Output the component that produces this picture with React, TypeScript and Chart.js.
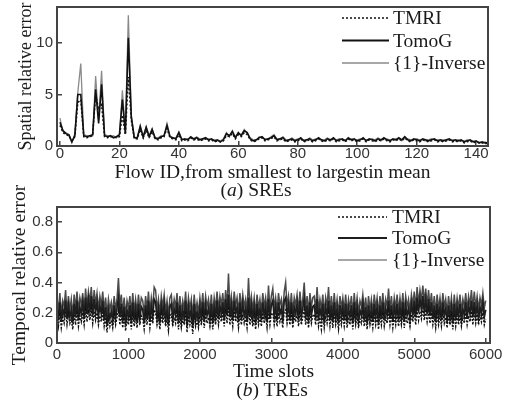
import { useEffect, useRef } from "react";
import { Chart, registerables } from "chart.js";

Chart.register(...registerables);

// ---------- (a) SREs : spatial relative error per flow (flow id 0..144) ----------
const SERIES_NAMES = ["TMRI", "TomoG", "{1}-Inverse"];
const SRE_TMRI = [
  2.0, 1.3, 1.1, 1.0, 0.5, 0.9, 4.2, 4.5, 0.9, 0.8,
  0.9, 1.0, 5.0, 3.5, 4.0, 0.9, 0.8, 0.9, 0.9, 0.8,
  0.9, 3.0, 1.1, 6.7, 2.5, 0.7, 0.7, 1.6, 0.8, 1.5,
  0.8, 1.4, 0.7, 0.6, 0.8, 0.9, 1.7, 0.8, 0.7, 0.6,
  1.1, 0.5, 0.6, 0.5, 0.8, 0.6, 0.7, 0.5, 0.6, 0.7,
  0.5, 0.6, 0.4, 0.5, 0.4, 0.5, 1.0, 0.9, 1.2, 0.7,
  1.1, 0.9, 1.3, 1.1, 0.6, 0.4, 0.5, 0.7, 0.8, 0.5,
  0.6, 0.7, 0.9, 0.5, 0.6, 0.7, 0.4, 0.5, 0.6, 0.4,
  0.5, 0.7, 0.4, 0.5, 0.6, 0.4, 0.5, 0.7, 0.5, 0.4,
  0.6, 0.5, 0.7, 0.4, 0.5, 0.6, 0.4, 0.7, 0.5, 0.6,
  0.4, 0.5, 0.7, 0.4, 0.6, 0.5, 0.4, 0.6, 0.5, 0.7,
  0.5, 0.4, 0.6, 0.5, 0.7, 0.5, 0.8, 0.5, 0.4, 0.6,
  0.5, 0.4, 0.6, 0.5, 0.4, 0.5, 0.6, 0.4, 0.5, 0.4,
  0.5, 0.6, 0.4, 0.5, 0.4, 0.5, 0.3, 0.4, 0.5, 0.3,
  0.4, 0.3, 0.3, 0.2, 0.3,
];
const SRE_TOMOG = [
  2.3, 1.5, 1.2, 1.1, 0.4, 1.0, 5.0, 5.0, 1.0, 0.9,
  1.0, 1.1, 5.5, 2.2, 6.0, 1.0, 0.9, 1.0, 0.8, 0.9,
  1.1, 4.5, 1.2, 10.5, 2.8, 0.8, 0.8, 1.9, 0.9, 1.8,
  0.9, 1.6, 0.8, 0.7, 0.9, 1.0, 2.0, 0.9, 0.8, 0.7,
  1.3, 0.6, 0.7, 0.6, 0.9, 0.7, 0.8, 0.6, 0.7, 0.8,
  0.6, 0.7, 0.5, 0.6, 0.4, 0.6, 1.2, 1.0, 1.4, 0.8,
  1.3, 1.0, 1.5, 1.3, 0.7, 0.5, 0.6, 0.8, 0.9, 0.6,
  0.7, 0.8, 1.0, 0.6, 0.7, 0.8, 0.5, 0.6, 0.7, 0.5,
  0.6, 0.8, 0.5, 0.6, 0.7, 0.5, 0.6, 0.8, 0.6, 0.5,
  0.7, 0.6, 0.8, 0.5, 0.6, 0.7, 0.5, 0.8, 0.6, 0.7,
  0.5, 0.6, 0.8, 0.5, 0.7, 0.6, 0.5, 0.7, 0.6, 0.8,
  0.6, 0.5, 0.7, 0.6, 0.8, 0.6, 0.9, 0.6, 0.5, 0.7,
  0.6, 0.5, 0.7, 0.6, 0.5, 0.6, 0.7, 0.5, 0.6, 0.5,
  0.6, 0.7, 0.5, 0.6, 0.5, 0.6, 0.4, 0.5, 0.6, 0.4,
  0.5, 0.3, 0.4, 0.3, 0.3,
];
const SRE_INVERSE = [
  2.7, 1.4, 1.3, 1.0, 0.3, 1.2, 5.2, 8.0, 1.1, 1.0,
  0.9, 1.0, 6.8, 2.5, 7.3, 1.1, 1.0, 0.9, 1.0, 0.8,
  1.0, 5.4, 1.4, 12.7, 3.0, 0.9, 0.7, 2.0, 0.8, 1.9,
  1.0, 1.7, 0.7, 0.8, 1.0, 0.9, 2.2, 1.0, 0.7, 0.8,
  1.4, 0.7, 0.6, 0.7, 0.8, 0.6, 0.9, 0.7, 0.6, 0.7,
  0.7, 0.6, 0.6, 0.5, 0.5, 0.7, 1.3, 0.9, 1.5, 0.9,
  1.2, 1.1, 1.6, 1.2, 0.8, 0.6, 0.5, 0.9, 0.8, 0.7,
  0.6, 0.9, 1.1, 0.7, 0.6, 0.9, 0.6, 0.5, 0.8, 0.6,
  0.7, 0.7, 0.6, 0.5, 0.8, 0.6, 0.7, 0.7, 0.5, 0.6,
  0.8, 0.5, 0.7, 0.6, 0.7, 0.6, 0.6, 0.7, 0.7, 0.6,
  0.6, 0.7, 0.7, 0.6, 0.6, 0.7, 0.6, 0.8, 0.5, 0.7,
  0.7, 0.6, 0.6, 0.7, 0.7, 0.5, 0.8, 0.7, 0.6, 0.6,
  0.7, 0.6, 0.6, 0.5, 0.6, 0.7, 0.6, 0.6, 0.5, 0.6,
  0.5, 0.6, 0.6, 0.5, 0.6, 0.5, 0.5, 0.6, 0.5, 0.5,
  0.4, 0.4, 0.3, 0.4, 0.3,
];
const SRE_X_TICKS = [0, 20, 40, 60, 80, 100, 120, 140];
const SRE_Y_TICKS = [0, 5, 10];
const SRE_X_TITLE = "Flow ID,from smallest to largestin mean";
const SRE_Y_TITLE = "Spatial relative error";

// ---------- (b) TREs : temporal relative error, one sample every 20 time slots (0..6000) ----------
const TRE_SLOT_STEP = 20;
const TRE_TMRI = [
  0.18, 0.11, 0.20, 0.10, 0.17, 0.13, 0.21, 0.12, 0.19, 0.13, 0.16, 0.09, 0.19, 0.12, 0.21, 0.11, 0.18, 0.14, 0.20, 0.12,
  0.22, 0.14, 0.21, 0.15, 0.23, 0.13, 0.21, 0.15, 0.20, 0.12, 0.18, 0.14, 0.20, 0.11, 0.17, 0.07, 0.16, 0.11, 0.15, 0.10,
  0.19, 0.12, 0.17, 0.22, 0.12, 0.19, 0.10, 0.18, 0.08, 0.16, 0.12, 0.19, 0.09, 0.20, 0.11, 0.17, 0.10, 0.19, 0.12, 0.18,
  0.16, 0.09, 0.19, 0.12, 0.21, 0.10, 0.18, 0.13, 0.22, 0.20, 0.12, 0.17, 0.09, 0.19, 0.13, 0.20, 0.11, 0.16, 0.08, 0.18,
  0.19, 0.11, 0.17, 0.13, 0.20, 0.09, 0.18, 0.10, 0.16, 0.12, 0.21, 0.07, 0.18, 0.12, 0.16, 0.06, 0.19, 0.11, 0.15, 0.10,
  0.18, 0.12, 0.20, 0.10, 0.19, 0.13, 0.17, 0.11, 0.19, 0.09, 0.18, 0.12, 0.21, 0.12, 0.19, 0.14, 0.20, 0.11, 0.22, 0.13,
  0.24, 0.12, 0.19, 0.11, 0.21, 0.14, 0.18, 0.10, 0.20, 0.12, 0.19, 0.13, 0.17, 0.10, 0.22, 0.12, 0.18, 0.11, 0.17, 0.09,
  0.19, 0.12, 0.17, 0.11, 0.20, 0.13, 0.18, 0.10, 0.21, 0.12, 0.19, 0.20, 0.12, 0.18, 0.11, 0.20, 0.14, 0.17, 0.10, 0.21,
  0.22, 0.13, 0.19, 0.12, 0.20, 0.10, 0.18, 0.14, 0.19, 0.11, 0.21, 0.12, 0.17, 0.22, 0.12, 0.18, 0.10, 0.20, 0.13, 0.18,
  0.19, 0.12, 0.21, 0.11, 0.17, 0.09, 0.19, 0.10, 0.18, 0.13, 0.20, 0.11, 0.19, 0.10, 0.20, 0.12, 0.17, 0.09, 0.18, 0.12,
  0.18, 0.11, 0.19, 0.10, 0.17, 0.12, 0.19, 0.09, 0.20, 0.12, 0.18, 0.10, 0.16, 0.13, 0.19, 0.11, 0.18, 0.09, 0.19, 0.12,
  0.17, 0.10, 0.19, 0.12, 0.18, 0.09, 0.19, 0.12, 0.20, 0.11, 0.17, 0.13, 0.21, 0.12, 0.19, 0.10, 0.18, 0.12, 0.19, 0.11,
  0.18, 0.12, 0.20, 0.10, 0.19, 0.13, 0.17, 0.11, 0.19, 0.14, 0.21, 0.12, 0.22, 0.15, 0.21, 0.16, 0.23, 0.15, 0.21, 0.14,
  0.21, 0.13, 0.20, 0.12, 0.18, 0.10, 0.19, 0.12, 0.18, 0.11, 0.20, 0.13, 0.17, 0.10, 0.19, 0.12, 0.18, 0.09, 0.19, 0.11,
  0.18, 0.12, 0.19, 0.11, 0.17, 0.13, 0.20, 0.12, 0.18, 0.14, 0.21, 0.12, 0.20, 0.13, 0.19, 0.12, 0.18, 0.14, 0.20, 0.12,
  0.16,
];
const TRE_TOMOG = [
  0.24, 0.15, 0.27, 0.14, 0.23, 0.18, 0.28, 0.16, 0.25, 0.17, 0.22, 0.13, 0.26, 0.17, 0.28, 0.15, 0.24, 0.19, 0.27, 0.16,
  0.30, 0.19, 0.29, 0.21, 0.31, 0.18, 0.29, 0.20, 0.27, 0.17, 0.25, 0.19, 0.28, 0.15, 0.24, 0.12, 0.22, 0.16, 0.21, 0.14,
  0.25, 0.16, 0.23, 0.30, 0.17, 0.26, 0.14, 0.24, 0.12, 0.22, 0.17, 0.25, 0.13, 0.27, 0.15, 0.23, 0.14, 0.26, 0.16, 0.24,
  0.22, 0.13, 0.25, 0.16, 0.28, 0.14, 0.24, 0.17, 0.29, 0.27, 0.16, 0.23, 0.13, 0.25, 0.18, 0.26, 0.15, 0.22, 0.12, 0.24,
  0.26, 0.15, 0.23, 0.18, 0.27, 0.13, 0.25, 0.14, 0.22, 0.16, 0.28, 0.11, 0.24, 0.17, 0.23, 0.10, 0.26, 0.15, 0.21, 0.14,
  0.24, 0.16, 0.27, 0.14, 0.25, 0.18, 0.23, 0.15, 0.26, 0.13, 0.24, 0.17, 0.28, 0.16, 0.25, 0.19, 0.27, 0.15, 0.29, 0.18,
  0.32, 0.17, 0.25, 0.15, 0.28, 0.19, 0.24, 0.14, 0.27, 0.16, 0.26, 0.18, 0.23, 0.14, 0.30, 0.17, 0.25, 0.16, 0.24, 0.13,
  0.26, 0.17, 0.23, 0.15, 0.27, 0.18, 0.24, 0.14, 0.29, 0.16, 0.25, 0.28, 0.17, 0.24, 0.15, 0.27, 0.19, 0.23, 0.14, 0.28,
  0.30, 0.18, 0.25, 0.16, 0.27, 0.14, 0.24, 0.19, 0.26, 0.15, 0.28, 0.17, 0.23, 0.30, 0.16, 0.25, 0.14, 0.27, 0.18, 0.24,
  0.25, 0.16, 0.29, 0.15, 0.23, 0.17, 0.26, 0.13, 0.24, 0.18, 0.28, 0.15, 0.25, 0.14, 0.27, 0.16, 0.23, 0.13, 0.25, 0.17,
  0.24, 0.15, 0.26, 0.14, 0.23, 0.17, 0.25, 0.13, 0.27, 0.16, 0.24, 0.14, 0.22, 0.18, 0.26, 0.15, 0.24, 0.13, 0.25, 0.16,
  0.23, 0.14, 0.26, 0.17, 0.24, 0.13, 0.25, 0.16, 0.27, 0.15, 0.23, 0.18, 0.28, 0.16, 0.25, 0.14, 0.24, 0.17, 0.26, 0.15,
  0.24, 0.16, 0.27, 0.14, 0.25, 0.18, 0.23, 0.15, 0.26, 0.19, 0.28, 0.17, 0.30, 0.20, 0.29, 0.22, 0.31, 0.21, 0.29, 0.19,
  0.29, 0.18, 0.27, 0.16, 0.25, 0.14, 0.26, 0.17, 0.24, 0.15, 0.27, 0.18, 0.23, 0.14, 0.25, 0.16, 0.24, 0.13, 0.26, 0.15,
  0.24, 0.17, 0.26, 0.15, 0.23, 0.18, 0.27, 0.16, 0.25, 0.19, 0.28, 0.17, 0.27, 0.18, 0.25, 0.16, 0.24, 0.19, 0.27, 0.17,
  0.22,
];
const TRE_INVERSE = [
  0.30, 0.21, 0.33, 0.19, 0.28, 0.24, 0.35, 0.20, 0.31, 0.22, 0.29, 0.18, 0.32, 0.23, 0.34, 0.21, 0.30, 0.25, 0.33, 0.20,
  0.36, 0.24, 0.34, 0.27, 0.37, 0.23, 0.35, 0.26, 0.33, 0.22, 0.31, 0.25, 0.34, 0.21, 0.30, 0.19, 0.29, 0.22, 0.27, 0.20,
  0.31, 0.22, 0.29, 0.43, 0.24, 0.32, 0.20, 0.30, 0.18, 0.28, 0.23, 0.31, 0.19, 0.33, 0.21, 0.29, 0.20, 0.32, 0.22, 0.30,
  0.28, 0.19, 0.31, 0.22, 0.34, 0.20, 0.30, 0.23, 0.37, 0.35, 0.22, 0.29, 0.19, 0.31, 0.24, 0.32, 0.21, 0.28, 0.18, 0.30,
  0.32, 0.21, 0.29, 0.24, 0.33, 0.19, 0.31, 0.20, 0.28, 0.22, 0.34, 0.18, 0.30, 0.23, 0.29, 0.17, 0.32, 0.21, 0.27, 0.20,
  0.30, 0.22, 0.33, 0.20, 0.31, 0.24, 0.29, 0.21, 0.32, 0.19, 0.30, 0.23, 0.34, 0.22, 0.31, 0.25, 0.33, 0.21, 0.35, 0.24,
  0.46, 0.23, 0.31, 0.21, 0.34, 0.25, 0.30, 0.20, 0.33, 0.22, 0.32, 0.24, 0.29, 0.20, 0.43, 0.23, 0.31, 0.22, 0.30, 0.19,
  0.32, 0.23, 0.29, 0.21, 0.33, 0.24, 0.30, 0.20, 0.38, 0.22, 0.31, 0.36, 0.23, 0.30, 0.21, 0.33, 0.25, 0.29, 0.20, 0.34,
  0.40, 0.24, 0.31, 0.22, 0.33, 0.20, 0.30, 0.25, 0.32, 0.21, 0.34, 0.23, 0.29, 0.40, 0.22, 0.31, 0.20, 0.33, 0.24, 0.30,
  0.31, 0.22, 0.37, 0.21, 0.29, 0.23, 0.32, 0.19, 0.30, 0.24, 0.37, 0.21, 0.31, 0.20, 0.33, 0.22, 0.29, 0.19, 0.31, 0.23,
  0.30, 0.21, 0.32, 0.20, 0.29, 0.23, 0.31, 0.19, 0.33, 0.22, 0.30, 0.20, 0.28, 0.24, 0.32, 0.21, 0.30, 0.19, 0.31, 0.22,
  0.29, 0.20, 0.32, 0.23, 0.30, 0.19, 0.31, 0.22, 0.33, 0.21, 0.29, 0.24, 0.36, 0.22, 0.31, 0.20, 0.30, 0.23, 0.32, 0.21,
  0.30, 0.22, 0.33, 0.20, 0.31, 0.24, 0.29, 0.21, 0.32, 0.25, 0.34, 0.23, 0.37, 0.26, 0.35, 0.28, 0.38, 0.27, 0.36, 0.25,
  0.35, 0.24, 0.33, 0.22, 0.31, 0.20, 0.32, 0.23, 0.30, 0.21, 0.33, 0.24, 0.29, 0.20, 0.31, 0.22, 0.30, 0.19, 0.32, 0.21,
  0.30, 0.23, 0.32, 0.21, 0.29, 0.24, 0.33, 0.22, 0.31, 0.25, 0.35, 0.23, 0.34, 0.24, 0.31, 0.22, 0.30, 0.25, 0.33, 0.23,
  0.28,
];
const TRE_X_TICKS = [0, 1000, 2000, 3000, 4000, 5000, 6000];
const TRE_Y_TICKS = [0, 0.2, 0.4, 0.6, 0.8];
const TRE_X_TITLE = "Time slots";
const TRE_Y_TITLE = "Temporal relative error";

const SERIF = '"Liberation Serif", "Times New Roman", serif';
const SANS = '"Liberation Sans", Arial, sans-serif';
const INK = "#1a1a1a";
const FRAME = "#444";

const framePlugin = {
  id: "frame",
  afterDraw(chart: any) {
    const { ctx, chartArea: a } = chart;
    ctx.save();
    ctx.strokeStyle = FRAME;
    ctx.lineWidth = 2;
    ctx.strokeRect(a.left, a.top, a.right - a.left, a.bottom - a.top);
    ctx.restore();
  },
};

function lineLegend(rows: number[], x1: number, x2: number, xt: number) {
  return {
    id: "lineLegend",
    afterDraw(chart: any) {
      const ctx = chart.ctx;
      chart.data.datasets.forEach((ds: any, i: number) => {
        const y = rows[i];
        ctx.save();
        ctx.strokeStyle = ds.legendColor ?? ds.borderColor;
        ctx.lineWidth = ds.legendWidth ?? ds.borderWidth;
        ctx.setLineDash(ds.legendDash ?? ds.borderDash ?? []);
        ctx.beginPath();
        ctx.moveTo(x1, y);
        ctx.lineTo(x2, y);
        ctx.stroke();
        ctx.setLineDash([]);
        ctx.fillStyle = INK;
        ctx.font = `19.5px ${SERIF}`;
        ctx.textBaseline = "middle";
        ctx.textAlign = "left";
        ctx.fillText(ds.label, xt, y + 1);
        ctx.restore();
      });
    },
  };
}

function makeOptions(p: {
  xmin: number; xmax: number; ymin: number; ymax: number;
  xTicks: number[]; yTicks: number[]; xTitle: string; yTitle: string;
  top: number; right: number; xHeight: number; xTickPad: number;
  xTitlePad: number; yTitlePad: number; yTitleSize: number;
}) {
  return {
    responsive: false,
    animation: false as const,
    events: [],
    layout: { padding: { top: p.top, right: p.right, left: 0, bottom: 0 } },
    elements: { point: { radius: 0 }, line: { tension: 0 } },
    plugins: { legend: { display: false }, tooltip: { enabled: false }, title: { display: false } },
    scales: {
      x: {
        type: "linear" as const,
        min: p.xmin,
        max: p.xmax,
        afterBuildTicks: (s: any) => { s.ticks = p.xTicks.map((v) => ({ value: v })); },
        afterFit: (s: any) => { s.height = p.xHeight; s.paddingLeft = 0; s.paddingRight = 0; },
        grid: { drawOnChartArea: false, tickLength: -5, color: FRAME, lineWidth: 1.5 },
        border: { display: false },
        ticks: {
          padding: p.xTickPad, color: "#333", font: { family: SANS, size: 15 }, maxRotation: 0, autoSkip: false,
          callback: (v: any) => String(v),
        },
        title: { display: true, text: p.xTitle, color: INK, font: { family: SERIF, size: 19.5 }, padding: { top: 0, bottom: p.xTitlePad } },
      },
      y: {
        type: "linear" as const,
        min: p.ymin,
        max: p.ymax,
        afterBuildTicks: (s: any) => { s.ticks = p.yTicks.map((v) => ({ value: v })); },
        afterFit: (s: any) => { s.width = 57; s.paddingTop = 0; s.paddingBottom = 0; },
        grid: { drawOnChartArea: false, tickLength: -5, color: FRAME, lineWidth: 1.5 },
        border: { display: false },
        ticks: { padding: 9, color: "#333", font: { family: SANS, size: 15 }, callback: (v: any) => String(v) },
        title: { display: true, text: p.yTitle, color: INK, font: { family: SERIF, size: p.yTitleSize }, padding: { top: p.yTitlePad, bottom: 0 } },
      },
    },
  };
}

function toPoints(values: number[], step: number) {
  return values.map((v, i) => ({ x: i * step, y: v }));
}

export default function App() {
  const topRef = useRef<HTMLCanvasElement>(null);
  const botRef = useRef<HTMLCanvasElement>(null);

  useEffect(() => {
    const top = new Chart(topRef.current!, {
      type: "line",
      data: {
        datasets: [
          { label: SERIES_NAMES[0], data: toPoints(SRE_TMRI, 1), borderColor: "#111", borderWidth: 1.5, borderDash: [2, 2], legendWidth: 1.5 } as any,
          { label: SERIES_NAMES[1], data: toPoints(SRE_TOMOG, 1), borderColor: "#111", borderWidth: 1.6, legendWidth: 2 } as any,
          { label: SERIES_NAMES[2], data: toPoints(SRE_INVERSE, 1), borderColor: "#8a8a8a", borderWidth: 1.3, legendWidth: 1.5 } as any,
        ],
      },
      options: makeOptions({
        xmin: -1, xmax: 144, ymin: 0, ymax: 13.5,
        xTicks: SRE_X_TICKS, yTicks: SRE_Y_TICKS, xTitle: SRE_X_TITLE, yTitle: SRE_Y_TITLE,
        top: 7, right: 27, xHeight: 49, xTickPad: 4, xTitlePad: 10.6, yTitlePad: 15.6, yTitleSize: 18,
      }) as any,
      plugins: [framePlugin, lineLegend([18, 40.5, 63], 342, 389, 393)],
    });

    const bot = new Chart(botRef.current!, {
      type: "line",
      data: {
        datasets: [
          { label: SERIES_NAMES[0], data: toPoints(TRE_TMRI, TRE_SLOT_STEP), borderColor: "#111", borderWidth: 1.4, borderDash: [2, 1.5], legendWidth: 1.5, legendDash: [2, 2] } as any,
          { label: SERIES_NAMES[1], data: toPoints(TRE_TOMOG, TRE_SLOT_STEP), borderColor: "#1e1e1e", borderWidth: 1.7, legendWidth: 2 } as any,
          { label: SERIES_NAMES[2], data: toPoints(TRE_INVERSE, TRE_SLOT_STEP), borderColor: "#4a4a4a", borderWidth: 1.5, legendWidth: 1.5, legendColor: "#8a8a8a" } as any,
        ],
      },
      options: makeOptions({
        xmin: 0, xmax: 6060, ymin: 0, ymax: 0.9,
        xTicks: TRE_X_TICKS, yTicks: TRE_Y_TICKS, xTitle: TRE_X_TITLE, yTitle: TRE_Y_TITLE,
        top: 32, right: 25, xHeight: 57, xTickPad: 8, xTitlePad: 16.6, yTitlePad: 8.6, yTitleSize: 19.5,
      }) as any,
      plugins: [framePlugin, lineLegend([42, 63, 85], 338, 387, 392)],
    });

    return () => {
      top.destroy();
      bot.destroy();
    };
  }, []);

  const caption: React.CSSProperties = {
    position: "absolute",
    fontFamily: SERIF,
    fontSize: 19.5,
    color: INK,
    lineHeight: "20px",
    whiteSpace: "nowrap",
    transform: "translate(-50%, -50%)",
  };

  return (
    <div style={{ position: "absolute", left: 0, top: 0, width: 515, height: 400, background: "#fff", overflow: "hidden" }}>
      <canvas ref={topRef} width={515} height={195} style={{ position: "absolute", left: 0, top: 0, display: "block" }} />
      <canvas ref={botRef} width={515} height={225} style={{ position: "absolute", left: 0, top: 175, display: "block" }} />
      <div style={{ ...caption, left: 256, top: 190 }}>(<i>a</i>) SREs</div>
      <div style={{ ...caption, left: 272, top: 390 }}>(<i>b</i>) TREs</div>
    </div>
  );
}
